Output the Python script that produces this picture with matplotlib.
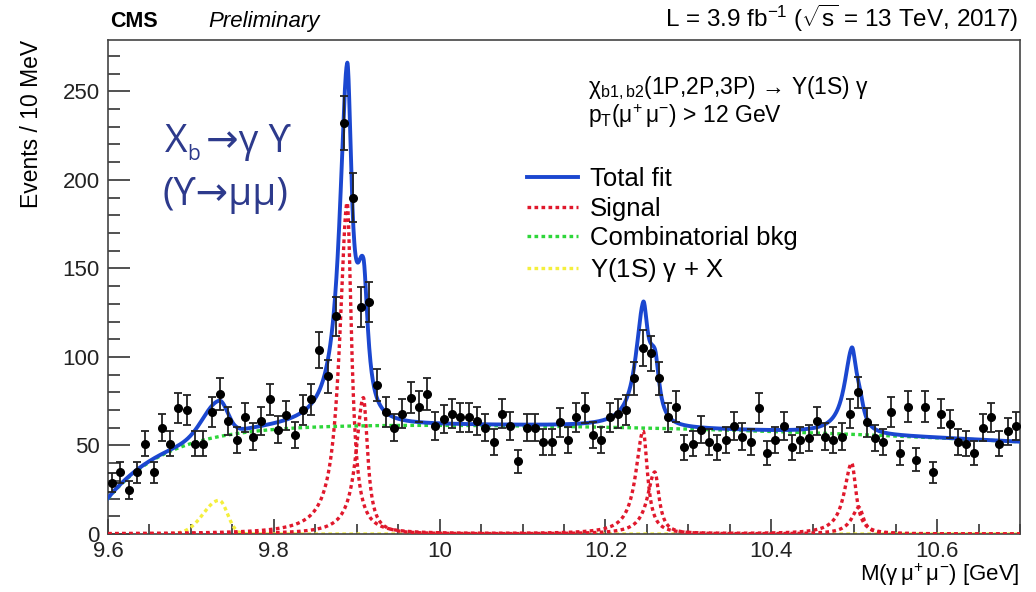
import numpy as np
import matplotlib
matplotlib.use('Agg')
import matplotlib.pyplot as plt
from matplotlib.ticker import MultipleLocator, FuncFormatter

plt.rcParams['font.family'] = ['Liberation Sans', 'DejaVu Sans']
plt.rcParams['mathtext.fontset'] = 'custom'
plt.rcParams['mathtext.rm'] = 'Liberation Sans'
plt.rcParams['mathtext.it'] = 'Liberation Sans:italic'
plt.rcParams['mathtext.bf'] = 'Liberation Sans:bold'
plt.rcParams['mathtext.default'] = 'regular'

# 10 MeV bins from 9.60 GeV
bin_low = 9.60
bin_width = 0.01
counts = [29, 35, 25, 35, 51, 35, 60, 51, 71, 70,
          51, 51, 69, 79, 64, 53, 66, 55, 64, 76,
          59, 67, 56, 70, 76, 104, 89, 123, 232, 190,
          128, 131, 84, 69, 60, 68, 77, 72, 79, 61,
          65, 68, 66, 66, 64, 60, 52, 68, 61, 41,
          60, 60, 52, 52, 63, 53, 66, 71, 56, 53,
          66, 68, 70, 88, 105, 102, 88, 66, 72, 49,
          51, 59, 52, 49, 53, 61, 55, 52, 71, 46,
          53, 61, 49, 53, 54, 64, 55, 53, 55, 68,
          80, 63, 54, 52, 69, 46, 72, 42, 72, 35,
          68, 62, 52, 51, 46, 60, 66, 51, 58, 61]

# fit components
chib1_mass = [9.8885, 10.2455, 10.4970]
chib1_height = [187, 58, 40]
chib2_mass = [9.9080, 10.2595, 10.5060]
chib2_height = [77, 35, 15]
width_low, width_high = 0.0108, 0.0063

bkg_level, bkg_slope, bkg_curv = 61.5, -3.0, -15.0
thr_x0, thr_tau = 9.5715, 0.071

feed_mass, feed_height = 9.734, 19.0
feed_sig_low, feed_sig_high = 0.019, 0.010

x_min, x_max = 9.6, 10.7
y_max = 279


def peak(x, m, h):
    w = np.where(x < m, width_low, width_high)
    return h / (1 + ((x - m) / w) ** 2)


def background(x):
    d = x - 10.0
    return (bkg_level + bkg_slope * d + bkg_curv * d ** 2) * (1 - np.exp(-(x - thr_x0) / thr_tau))


def feed_down(x):
    s = np.where(x < feed_mass, feed_sig_low, feed_sig_high)
    return feed_height * np.exp(-0.5 * ((x - feed_mass) / s) ** 2)


xs = np.linspace(x_min, x_max, 3000)
sig_b1 = sum(peak(xs, m, h) for m, h in zip(chib1_mass, chib1_height))
sig_b2 = sum(peak(xs, m, h) for m, h in zip(chib2_mass, chib2_height))
bkg = background(xs)
feed = feed_down(xs)
total = bkg + sig_b1 + sig_b2 + feed

centers = bin_low + bin_width * (np.arange(len(counts)) + 0.5)
counts = np.array(counts)

fig = plt.figure(figsize=(10.36, 5.92), dpi=100)
ax = fig.add_axes([108 / 1036, 1 - 534 / 592, 912 / 1036, 494 / 592])

dot = (0, (1.1, 1.0))
ax.plot(xs, feed, color='#f4ef3c', lw=2.4, ls=dot, zorder=2)
ax.plot(xs, sig_b1, color='#e0182c', lw=2.4, ls=dot, zorder=3)
h_sig, = ax.plot(xs, sig_b2, color='#e0182c', lw=2.4, ls=dot, zorder=3)
h_bkg, = ax.plot(xs, bkg, color='#2ed63a', lw=2.4, ls=dot, zorder=3)
h_tot, = ax.plot(xs, total, color='#1b47d0', lw=2.8, zorder=4)
h_feed = plt.Line2D([], [], color='#f4ef3c', lw=2.4, ls=dot)

ax.errorbar(centers, counts, yerr=np.sqrt(counts), fmt='o', color='black', ecolor='#222222',
            ms=5.5, elinewidth=1.3, capsize=3, capthick=1.3, zorder=5)

ax.set_xlim(x_min, x_max)
ax.set_ylim(0, y_max)
ax.xaxis.set_major_locator(MultipleLocator(0.2))
ax.xaxis.set_minor_locator(MultipleLocator(0.05))
ax.yaxis.set_major_locator(MultipleLocator(50))
ax.yaxis.set_minor_locator(MultipleLocator(10))
ax.xaxis.set_major_formatter(FuncFormatter(lambda v, p: f'{v:g}'))
ax.tick_params(axis='both', which='both', direction='in', colors='#333333', labelcolor='#222222',
               labelsize=16, width=1.2)
ax.tick_params(axis='y', which='major', length=16, pad=6)
ax.tick_params(axis='y', which='minor', length=8.5)
ax.tick_params(axis='x', which='major', length=11, pad=5)
ax.tick_params(axis='x', which='minor', length=7)
for sp in ax.spines.values():
    sp.set_color('#444444')
    sp.set_linewidth(1.2)

ax.set_ylabel('Events / 10 MeV', fontsize=16.5, loc='top', labelpad=14)
ax.set_xlabel(r'M($\gamma\,\mu^{+}\,\mu^{-}$) [GeV]', fontsize=16, loc='right', labelpad=0)

fig.text(110 / 1036, 1 - 27 / 592, 'CMS', fontsize=15.5, fontweight='bold', va='baseline')
fig.text(208 / 1036, 1 - 27 / 592, 'Preliminary', fontsize=16, style='italic', va='baseline')
fig.text(1018 / 1036, 1 - 27 / 592, r'L = 3.9 fb$^{-1}$ ($\sqrt{\mathregular{s}}$ = 13 TeV, 2017)',
         fontsize=17.5, ha='right', va='baseline')

fig.text(588 / 1036, 1 - 94 / 592, r'$\chi_{b1,b2}$(1P,2P,3P) → Y(1S) $\gamma$',
         fontsize=16.5, va='baseline')
fig.text(588 / 1036, 1 - 123 / 592, r'p$_{T}$($\mu^{+}\,\mu^{-}$) > 12 GeV',
         fontsize=16.5, va='baseline')

note = dict(color='#2d3a8c', va='baseline', family=['Open Sans', 'DejaVu Sans'])
fig.text(165 / 1036, 1 - 152 / 592, 'X', fontsize=28, **note)
fig.text(187 / 1036, 1 - 160 / 592, 'b', fontsize=15, **note)
fig.text(206 / 1036, 1 - 152 / 592, '→γ ϒ', fontsize=28, **note)
fig.text(163 / 1036, 1 - 205 / 592, '(ϒ→μμ)', fontsize=28, **note)

ax.legend([h_tot, h_sig, h_bkg, h_feed],
          ['Total fit', 'Signal', 'Combinatorial bkg', r'Y(1S) $\gamma$ + X'],
          loc='upper left', bbox_to_anchor=(527 / 1036, 1 - 167 / 592), bbox_transform=fig.transFigure,
          frameon=False, fontsize=18.5, handlelength=2.0, handletextpad=0.45, labelspacing=0.22,
          borderpad=0, borderaxespad=0)

fig.savefig('out.png', dpi=100)
